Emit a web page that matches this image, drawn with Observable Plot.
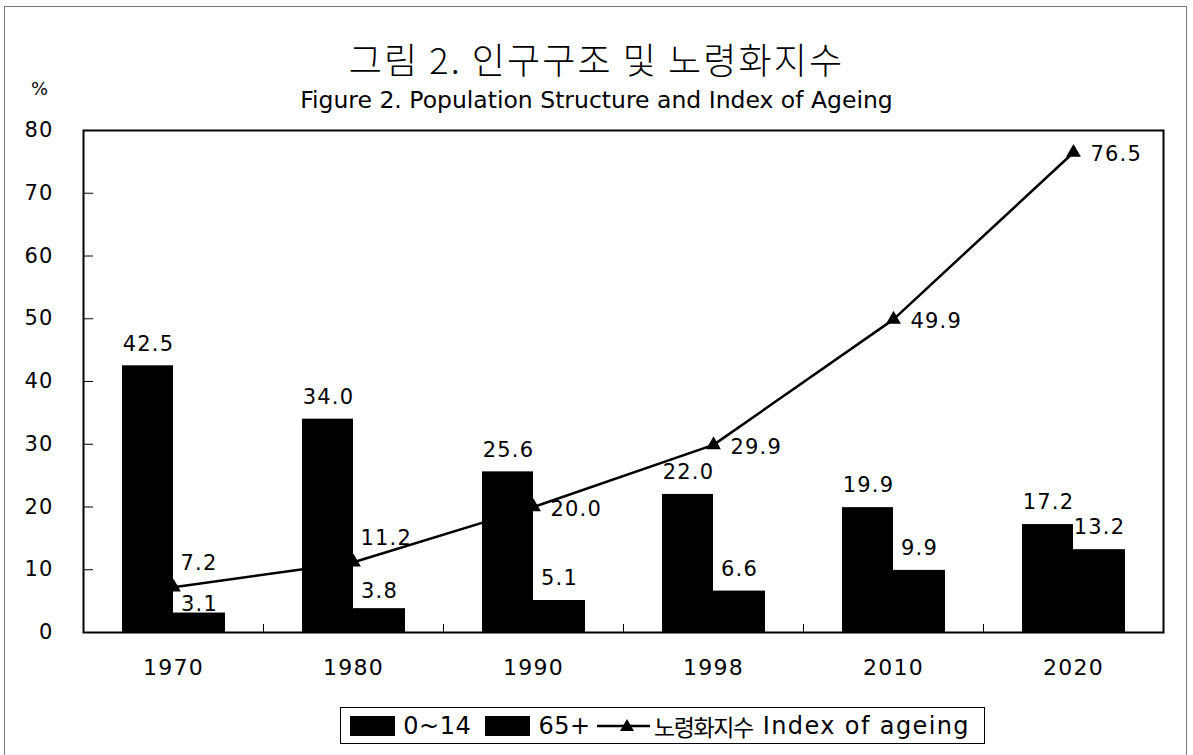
<!DOCTYPE html>
<html><head><meta charset="utf-8">
<script src="https://cdn.jsdelivr.net/npm/d3@7"></script>
<script src="https://cdn.jsdelivr.net/npm/@observablehq/plot@0.6"></script>
<style>
body{margin:0;background:#fff;}
#wrap{position:relative;width:1193px;height:755px;overflow:hidden;font-family:"DejaVu Sans","Noto Sans CJK KR",sans-serif;color:#000;background:#fff;}
#border{position:absolute;left:4px;top:6px;width:1181px;height:800px;border:1px solid #777;border-bottom:none;z-index:5;pointer-events:none;}
#title{position:absolute;left:0;width:1193px;top:36px;text-align:center;font-family:"Noto Sans CJK KR",sans-serif;font-weight:300;font-size:36px;line-height:44px;letter-spacing:2.1px;white-space:nowrap;}
#subtitle{position:absolute;left:0;width:1193px;top:85px;text-align:center;font-size:23.5px;line-height:30px;white-space:nowrap;}
#pct{position:absolute;left:31px;top:78px;font-size:18px;line-height:22px;}
#chart{position:absolute;left:0;top:110px;}
#legend{position:absolute;left:340px;top:707px;height:37px;width:645px;border:1.5px solid #000;display:flex;align-items:center;padding-left:9px;box-sizing:border-box;font-size:24px;white-space:nowrap;background:#fff;}
.sw{display:inline-block;width:51px;height:20px;background:#000;margin-right:8px;}
.lab{margin-right:14px;letter-spacing:0.5px;}
.lsw{margin-right:4px;}
.kr{font-family:"Noto Sans CJK KR",sans-serif;font-size:23px;letter-spacing:-1.4px;}
.en{letter-spacing:1.4px;}
</style>
</head><body>
<div id="wrap">
  <div id="title"></div>
  <div id="subtitle"></div>
  <div id="pct"></div>
  <div id="chart"></div>
  <div id="legend"></div>
  <div id="border"></div>
</div>
<script>
const titleKo = "그림 2. 인구구조 및 노령화지수";
const titleEn = "Figure 2. Population Structure and Index of Ageing";
const unitLabel = "%";
const years = ["1970", "1980", "1990", "1998", "2010", "2020"];
const young = [42.5, 34.0, 25.6, 22.0, 19.9, 17.2];
const old = [3.1, 3.8, 5.1, 6.6, 9.9, 13.2];
const ageing = [7.2, 11.2, 20.0, 29.9, 49.9, 76.5];
const seriesNames = ["0~14", "65+", "노령화지수", "Index of ageing"];
const yTicks = [0, 10, 20, 30, 40, 50, 60, 70, 80];

document.getElementById("title").textContent = titleKo;
document.getElementById("subtitle").textContent = titleEn;
document.getElementById("pct").textContent = unitLabel;

const youngRows = years.map((year, i) => ({year, value: young[i]}));
const oldRows = years.map((year, i) => ({year, value: old[i], i}));
const ageRows = years.map((year, i) => ({year, value: ageing[i], i}));
const fmt = d => d.value.toFixed(1);

const chart = Plot.plot({
  width: 1193,
  height: 590,
  marginTop: 20,
  marginBottom: 68,
  marginLeft: 83,
  marginRight: 30,
  style: {fontFamily: "DejaVu Sans", fontSize: "21px", background: "transparent", color: "black", overflow: "visible", letterSpacing: "1.2px"},
  x: {domain: years, padding: 0, label: null},
  y: {domain: [0, 80], label: null},
  marks: [
    Plot.barY(youngRows, {x: "year", y: "value", fill: "black", insetLeft: 39, insetRight: 90}),
    Plot.barY(oldRows, {x: "year", y: "value", fill: "black", insetLeft: 90, insetRight: 38}),
    Plot.text(youngRows, {x: "year", y: "value", text: fmt, dx: -25, dy: -22, fill: "black"}),
    Plot.text(oldRows.filter(d => d.i === 0), {x: "year", y: "value", text: fmt, dx: 26, dy: -9, fill: "black"}),
    Plot.text(oldRows.filter(d => d.i === 1), {x: "year", y: "value", text: fmt, dx: 26, dy: -17, fill: "black"}),
    Plot.text(oldRows.filter(d => d.i >= 2), {x: "year", y: "value", text: fmt, dx: 26, dy: -22, fill: "black"}),
    Plot.line(ageRows, {x: "year", y: "value", stroke: "black", strokeWidth: 2.5}),
    Plot.dot(ageRows, {x: "year", y: "value", symbol: "triangle", fill: "black", stroke: "none", r: 5.5}),
    Plot.text(ageRows.filter(d => d.i < 2), {x: "year", y: "value", text: fmt, textAnchor: "start", dx: 7, dy: -24, fill: "black"}),
    Plot.text(ageRows.filter(d => d.i >= 2), {x: "year", y: "value", text: fmt, textAnchor: "start", dx: 17, dy: 2, fill: "black"}),
    Plot.frame({stroke: "black", strokeWidth: 2}),
    Plot.axisY({ticks: yTicks, tickSize: 0, tickPadding: 30, tickFormat: d => String(d), fontSize: 21}),
    Plot.axisY({ticks: yTicks, tickSize: -10, tickPadding: 0, tickFormat: () => ""}),
    Plot.axisX({tickSize: 0, tickPadding: 27, fontSize: 22}),
    Plot.axisX({tickSize: -8, tickPadding: 0, tickFormat: () => "", dx: 90})
  ]
});
document.getElementById("chart").appendChild(chart);

// legend built from the series names
const legend = document.getElementById("legend");
function addSwatch() {
  const s = document.createElement("span"); s.className = "sw"; legend.appendChild(s);
}
function addLabel(t, cls) {
  const s = document.createElement("span"); s.className = "lab " + (cls || ""); s.textContent = t; legend.appendChild(s); return s;
}
addSwatch(); addLabel(seriesNames[0]);
addSwatch(); addLabel(seriesNames[1]).style.marginRight = "6px";
const ns = "http://www.w3.org/2000/svg";
const lsw = document.createElementNS(ns, "svg");
lsw.setAttribute("width", 60); lsw.setAttribute("height", 20); lsw.setAttribute("class", "lsw");
const ln = document.createElementNS(ns, "line");
ln.setAttribute("x1", 0); ln.setAttribute("x2", 60); ln.setAttribute("y1", 10); ln.setAttribute("y2", 10);
ln.setAttribute("stroke", "black"); ln.setAttribute("stroke-width", 2.5);
const tri = document.createElementNS(ns, "path");
tri.setAttribute("d", "M30,3L37,15L23,15Z"); tri.setAttribute("fill", "black");
lsw.appendChild(ln); lsw.appendChild(tri); legend.appendChild(lsw);
const k = addLabel(seriesNames[2], "kr"); k.style.marginRight = "10px";
addLabel(seriesNames[3], "en");
</script>
</body></html>
